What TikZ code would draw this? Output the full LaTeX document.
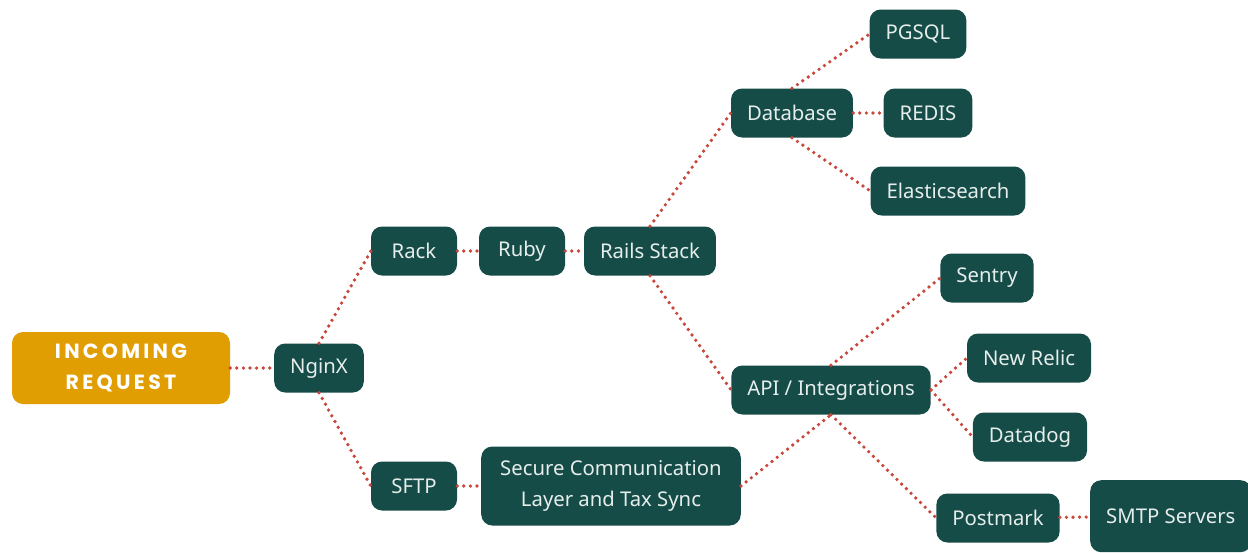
\documentclass[tikz,border=0pt]{standalone}
\usepackage{fontspec}
\setmainfont{Noto Sans}
\newfontfamily\incfont[LetterSpace=16]{Poppins}
\usetikzlibrary{positioning}
\definecolor{boxgreen}{HTML}{164C48}
\definecolor{boxgold}{HTML}{E19E02}
\definecolor{dotred}{HTML}{C8473A}
\definecolor{boxtext}{HTML}{E6EEEC}
\begin{document}
\begin{tikzpicture}[x=1pt,y=-1pt,
  box/.style={fill=boxgreen,text=boxtext,rounded corners=11pt,minimum height=49pt,minimum width=86pt,
    inner xsep=16pt,font=\fontsize{20.3}{31}\selectfont,align=center},
  link/.style={draw=dotred,line width=3.7pt,line cap=round,dash pattern=on 0pt off 6.6pt}]
\useasboundingbox (0,0) rectangle (1248,552);
% start
\node[box,fill=boxgold,text=white,minimum width=218pt,minimum height=72pt,
  font=\incfont\bfseries\fontsize{20.5}{31}\selectfont] (inc) at (121,368) {INCOMING\\REQUEST};
\node[box] (nginx) at (319,368) {NginX};
% upper branch
\node[box] (rack) at (414,251) {Rack};
\node[box] (ruby) at (522,251) {Ruby};
\node[box] (rails) at (650,251) {Rails Stack};
\node[box] (db) at (792,113) {Database};
\node[box] (pg) at (918,34) {PGSQL};
\node[box] (redis) at (928,113) {REDIS};
\node[box] (es) at (948,191) {Elasticsearch};
% integrations
\node[box] (api) at (831,390) {API / Integrations};
\node[box] (sentry) at (987,278) {Sentry};
\node[box] (relic) at (1029,358) {New Relic};
\node[box] (dd) at (1030,437) {Datadog};
\node[box] (pm) at (998,518) {Postmark};
\node[box,minimum height=72pt,anchor=north west] (smtp) at (1090,480) {SMTP Servers};
% lower branch
\node[box] (sftp) at (414,486) {SFTP};
\node[box,minimum height=79pt,inner xsep=19pt] (sec) at (611,486) {Secure Communication\\Layer and Tax Sync};
% links
\draw[link] (inc.east) -- (nginx.west);
\draw[link] (nginx.north) -- (rack.west);
\draw[link] (nginx.south) -- (sftp.west);
\draw[link] (rack) -- (ruby);
\draw[link] (ruby) -- (rails);
\draw[link] (rails.north) -- (db.west);
\draw[link] (rails.south) -- (api.west);
\draw[link] (db.north) -- (pg.west);
\draw[link] (db) -- (redis);
\draw[link] (db.south) -- (es.west);
\draw[link] (api.north) -- (sentry.west);
\draw[link] (api.east) -- (relic.west);
\draw[link] (api.east) -- (dd.west);
\draw[link] (api.south) -- (pm.west);
\draw[link] (pm) -- (smtp);
\draw[link] (sftp) -- (sec);
\draw[link] (sec.east) -- (api.south);
\end{tikzpicture}
\end{document}
